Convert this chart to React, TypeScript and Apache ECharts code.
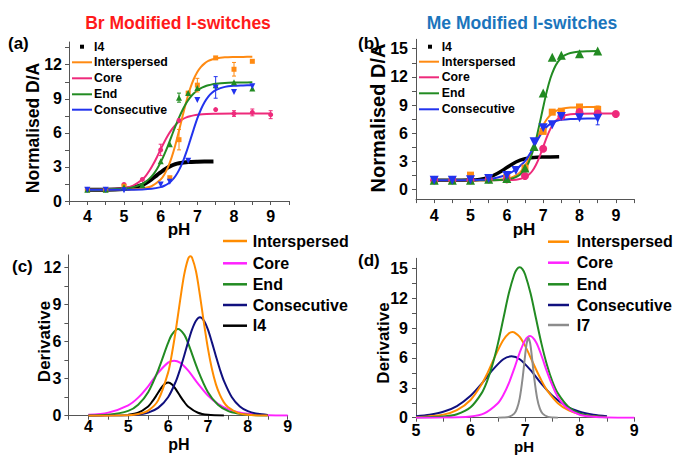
import React, { useEffect, useRef } from 'react';
import * as echarts from 'echarts';

type P = [number, number][];
type E = [number, number, number][];

// ---------- Panel (a): Br modified, Normalised D/A ----------
const aI4Fit: P = [[4,1],[4.5,1],[5,1.06],[5.25,1.18],[5.5,1.42],[5.6,1.58],[5.75,1.9],[5.9,2.28],[6,2.52],[6.1,2.76],[6.25,3.05],[6.4,3.25],[6.5,3.33],[6.75,3.43],[7,3.46],[7.44,3.48]];
const aInterFit: P = [[4,1],[4.5,1],[5,1.01],[5.25,1.03],[5.5,1.1],[5.75,1.3],[6,1.89],[6.1,2.34],[6.2,2.98],[6.3,3.84],[6.4,4.93],[6.5,6.19],[6.6,7.51],[6.7,8.77],[6.8,9.86],[6.9,10.72],[7,11.36],[7.1,11.81],[7.2,12.12],[7.3,12.33],[7.4,12.46],[7.5,12.55],[7.75,12.65],[8,12.68],[8.25,12.69],[8.5,12.7]];
const aCoreFit: P = [[4,1],[4.5,1.02],[5,1.14],[5.25,1.36],[5.5,1.89],[5.6,2.24],[5.7,2.7],[5.8,3.25],[5.9,3.88],[6,4.55],[6.1,5.2],[6.2,5.79],[6.3,6.29],[6.4,6.68],[6.5,6.98],[6.6,7.2],[6.7,7.36],[6.8,7.47],[6.9,7.54],[7,7.59],[7.25,7.66],[7.5,7.68],[8,7.7],[8.5,7.7],[9,7.7]];
const aEndFit: P = [[4,1],[4.5,1.02],[5,1.09],[5.25,1.22],[5.5,1.51],[5.6,1.72],[5.7,1.99],[5.8,2.35],[5.9,2.82],[6,3.41],[6.1,4.11],[6.2,4.88],[6.3,5.73],[6.4,6.57],[6.5,7.34],[6.6,8.04],[6.7,8.63],[6.8,9.1],[6.9,9.46],[7,9.73],[7.1,9.94],[7.2,10.08],[7.3,10.19],[7.4,10.27],[7.5,10.32],[7.75,10.4],[8,10.43],[8.25,10.44],[8.5,10.45]];
const aConsFit: P = [[4,1],[4.5,1],[5,1],[5.5,1.02],[5.75,1.07],[6,1.22],[6.1,1.34],[6.2,1.52],[6.3,1.79],[6.4,2.18],[6.5,2.72],[6.6,3.42],[6.7,4.3],[6.8,5.29],[6.9,6.31],[7,7.27],[7.1,8.08],[7.2,8.72],[7.3,9.2],[7.4,9.53],[7.5,9.76],[7.75,10.05],[8,10.15],[8.25,10.18],[8.5,10.2]];
const aInterPts: P = [[4,1],[4.5,1],[5,1.3],[6.25,2.05],[6.5,5.4],[6.75,9.5],[7,10.2],[7.5,12.6],[8,11.6],[8.5,12.3]];
const aCorePts: P = [[4,1],[4.5,1],[5,1.45],[5.5,1.9],[6,4.5],[6.5,7.1],[7.5,8.05],[8,7.7],[8.5,7.8],[9,7.6]];
const aEndPts: P = [[4,1],[4.5,1],[5,1.2],[5.5,1.4],[6,3.5],[6.25,5.0],[6.5,9.1],[6.75,9.5],[7,9.95],[7.5,10.2],[8,10.45],[8.5,9.9]];
const aConsPts: P = [[4,1],[4.5,1],[5,0.95],[6,1.45],[6.25,1.7],[6.75,3.55],[7,8.9],[7.5,10.0],[8,9.6],[8.5,10.1]];
const aInterErr: E = [[6.5,5.4,0.9],[7,10.2,0.6],[8,11.6,0.6]];
const aCoreErr: E = [[6,4.5,0.5],[8,7.7,0.25],[8.5,7.8,0.3],[9,7.6,0.35]];
const aEndErr: E = [[6.5,9.1,0.4]];
const aConsErr: E = [[7.5,10.0,0.95]];

// ---------- Panel (b): Me modified, Normalised D/A ----------
const bI4Fit: P = [[4,1],[4.5,1],[5,1.03],[5.25,1.1],[5.5,1.3],[5.75,1.75],[6,2.35],[6.25,2.95],[6.5,3.3],[6.75,3.43],[7,3.47],[7.44,3.5]];
const bInterFit: P = [[4,1],[5,1],[5.5,1.01],[5.75,1.05],[6,1.15],[6.1,1.25],[6.2,1.41],[6.3,1.65],[6.4,2.01],[6.5,2.54],[6.6,3.25],[6.7,4.13],[6.8,5.1],[6.9,6.04],[7,6.85],[7.1,7.49],[7.2,7.95],[7.3,8.26],[7.4,8.46],[7.5,8.59],[7.75,8.74],[8,8.78],[8.5,8.8]];
const bCoreFit: P = [[4,1],[5,1],[6,1.02],[6.25,1.07],[6.4,1.18],[6.5,1.33],[6.6,1.58],[6.7,1.99],[6.8,2.63],[6.9,3.5],[7,4.55],[7.1,5.6],[7.2,6.47],[7.3,7.11],[7.4,7.52],[7.5,7.77],[7.6,7.92],[7.75,8.03],[8,8.08],[8.5,8.1],[9,8.1]];
const bEndFit: P = [[4,1],[5,1],[5.5,1.01],[6,1.09],[6.2,1.26],[6.3,1.44],[6.4,1.72],[6.5,2.18],[6.6,2.88],[6.7,3.9],[6.8,5.29],[6.9,6.98],[7,8.77],[7.1,10.46],[7.2,11.85],[7.3,12.87],[7.4,13.57],[7.5,14.02],[7.6,14.31],[7.75,14.55],[8,14.7],[8.25,14.74],[8.5,14.75]];
const bConsFit: P = [[4,1],[4.5,1],[5,1.02],[5.25,1.06],[5.5,1.12],[5.75,1.3],[6,1.6],[6.25,2.15],[6.4,2.65],[6.5,3.05],[6.6,3.6],[6.7,4.25],[6.8,4.95],[6.9,5.65],[7,6.25],[7.1,6.7],[7.2,7.0],[7.3,7.2],[7.4,7.35],[7.5,7.43],[7.75,7.52],[8,7.56],[8.5,7.58]];
const bInterPts: P = [[4,1.05],[4.5,1],[5,1.55],[5.5,1.2],[6,1.3],[6.5,2.3],[7,6.2],[7.25,8.25],[7.5,8.35],[8,8.8],[8.5,8.55]];
const bCorePts: P = [[4,1],[4.5,1],[5,1],[5.5,1.1],[6,1.1],[6.5,1.45],[7,4.35],[7.5,7.8],[8,8.25],[8.5,8.1],[9,8.05]];
const bEndPts: P = [[4,1],[4.5,1],[5,1],[5.5,1.1],[6,1.2],[6.5,2.3],[6.75,4.6],[7,10.3],[7.25,14.1],[7.5,14.3],[8,14.45],[8.5,14.75]];
const bConsPts: P = [[4,1],[4.5,1],[5,1.05],[5.5,1.2],[6,1.5],[6.25,2.05],[6.75,5.1],[7,6.6],[7.25,6.9],[7.5,7.8],[8,7.65],[8.5,7.6]];
const bInterErr: E = [[8.5,8.55,0.35]];
const bConsErr: E = [[8.5,7.6,0.7]];

// ---------- Panel (c): Br modified, Derivative ----------
const cInter: P = [[4,0],[4.5,0],[5,0.04],[5.25,0.13],[5.5,0.41],[5.75,1.24],[6,3.48],[6.1,5.09],[6.2,7.05],[6.3,9.28],[6.4,11.34],[6.5,12.66],[6.56,12.9],[6.6,12.79],[6.7,11.68],[6.8,9.71],[6.9,7.47],[7,5.42],[7.1,3.77],[7.2,2.53],[7.3,1.68],[7.4,1.08],[7.5,0.7],[7.75,0.23],[8,0.07],[8.25,0.02],[8.5,0.01]];
const cCore: P = [[4,0.07],[4.5,0.25],[5,0.84],[5.25,1.46],[5.5,2.38],[5.75,3.46],[6,4.29],[6.15,4.45],[6.3,4.29],[6.5,3.66],[6.75,2.59],[7,1.62],[7.25,0.95],[7.5,0.53],[7.75,0.29],[8,0.15],[8.5,0.04],[9,0.01]];
const cEnd: P = [[4,0.01],[4.5,0.07],[5,0.39],[5.25,0.89],[5.5,1.9],[5.75,3.67],[6,5.88],[6.1,6.57],[6.25,7.0],[6.4,6.57],[6.5,5.88],[6.75,3.67],[7,1.9],[7.25,0.89],[7.5,0.39],[7.75,0.17],[8,0.07],[8.5,0.01]];
const cCons: P = [[4,0],[4.5,0.01],[5,0.04],[5.25,0.1],[5.5,0.25],[5.75,0.63],[6,1.49],[6.2,2.82],[6.3,3.74],[6.4,4.81],[6.5,5.93],[6.6,6.96],[6.7,7.68],[6.8,7.95],[6.9,7.68],[7,6.96],[7.1,5.93],[7.2,4.81],[7.3,3.74],[7.4,2.82],[7.6,1.49],[7.8,0.75],[8,0.37],[8.25,0.15],[8.5,0.06]];
const cI4: P = [[5,0.07],[5.25,0.24],[5.5,0.75],[5.6,1.13],[5.7,1.6],[5.8,2.11],[5.9,2.52],[6,2.68],[6.1,2.52],[6.2,2.11],[6.3,1.6],[6.4,1.13],[6.5,0.75],[6.75,0.24],[7,0.07],[7.4,0.01]];

// ---------- Panel (d): Me modified, Derivative ----------
const dInter: P = [[5,0.05],[5.5,0.31],[5.75,0.75],[6,1.78],[6.2,3.33],[6.3,4.36],[6.4,5.57],[6.5,6.76],[6.6,7.8],[6.7,8.46],[6.77,8.6],[6.8,8.57],[6.9,8.12],[7,7.21],[7.1,6.04],[7.2,4.84],[7.3,3.72],[7.4,2.77],[7.6,1.46],[7.8,0.73],[8,0.35],[8.25,0.14],[8.5,0.06]];
const dCore: P = [[5,0],[5.5,0.01],[6,0.12],[6.25,0.43],[6.5,1.45],[6.6,2.27],[6.7,3.44],[6.8,4.93],[6.9,6.53],[7,7.78],[7.09,8.2],[7.2,7.58],[7.3,6.22],[7.4,4.62],[7.5,3.21],[7.6,2.07],[7.75,1.05],[8,0.3],[8.25,0.09],[8.5,0.02],[9,0]];
const dEnd: P = [[5,0.01],[5.5,0.12],[5.75,0.35],[6,1.05],[6.2,2.44],[6.3,3.63],[6.4,5.29],[6.5,7.41],[6.6,9.93],[6.7,12.46],[6.8,14.37],[6.85,14.91],[6.9,15.1],[6.95,14.91],[7,14.37],[7.1,12.46],[7.2,9.93],[7.3,7.41],[7.4,5.29],[7.5,3.63],[7.6,2.44],[7.8,1.05],[8,0.44],[8.25,0.15],[8.5,0.05]];
const dCons: P = [[5,0.14],[5.25,0.29],[5.5,0.59],[5.75,1.17],[6,2.2],[6.2,3.4],[6.4,4.77],[6.6,5.87],[6.75,6.16],[6.9,5.87],[7.1,4.77],[7.3,3.4],[7.5,2.2],[7.75,1.17],[8,0.59],[8.25,0.29],[8.5,0.14]];
const dI7: P = [[6.5,0],[6.6,0.02],[6.7,0.08],[6.8,0.41],[6.85,0.91],[6.9,1.94],[6.95,3.81],[7,6.29],[7.03,7.52],[7.06,8.0],[7.09,7.52],[7.12,6.29],[7.17,3.81],[7.22,1.94],[7.27,0.91],[7.32,0.41],[7.42,0.08],[7.52,0.02],[7.6,0]];

// ---------- ticks & labels ----------
const xLabelsAB = [4, 5, 6, 7, 8, 9];
const xTicksAB = [3.5, 4, 4.5, 5, 5.5, 6, 6.5, 7, 7.5, 8, 8.5, 9, 9.5];
const xTicksC = [3.5, 4, 4.5, 5, 5.5, 6, 6.5, 7, 7.5, 8, 8.5, 9];
const xLabelsD = [5, 6, 7, 8, 9];
const xTicksD = [5, 5.5, 6, 6.5, 7, 7.5, 8, 8.5, 9];
const yLabels12 = [0, 3, 6, 9, 12];
const yTicks12 = [0, 1.5, 3, 4.5, 6, 7.5, 9, 10.5, 12, 13.5];
const yLabels15 = [0, 3, 6, 9, 12, 15];
const yTicks15 = [0, 1.5, 3, 4.5, 6, 7.5, 9, 10.5, 12, 13.5, 15];

const legendAB = ['Interspersed', 'Core', 'End', 'Consecutive'];
const legendC = ['Interspersed', 'Core', 'End', 'Consecutive', 'I4'];
const legendD = ['Interspersed', 'Core', 'End', 'Consecutive', 'I7'];

const C = {
  orange: '#FF8A12', pink: '#EE2A7B', green: '#228B22', blue: '#2233EE',
  dOrange: '#FF8C00', dMagenta: '#FF22FF', dGreen: '#228B22', navy: '#10107F', gray: '#8C8C8C',
};
const colorsAB = [C.orange, C.pink, C.green, C.blue];
const colorsC = [C.dOrange, C.dMagenta, C.dGreen, C.navy, '#000000'];
const colorsD = [C.dOrange, C.dMagenta, C.dGreen, C.navy, C.gray];

const FONT = '"Liberation Sans", Arial, Helvetica, sans-serif';

function fit(data: P, color: string, p: number, width = 2) {
  return { type: 'line', xAxisIndex: p, yAxisIndex: p, data, symbol: 'none', smooth: 0.3,
    lineStyle: { color, width }, itemStyle: { color }, z: 3, silent: true };
}
function pts(data: P, color: string, symbol: string, size: number, p: number, rotate = 0) {
  return { type: 'scatter', xAxisIndex: p, yAxisIndex: p, data, symbol, symbolSize: size,
    symbolRotate: rotate, itemStyle: { color, opacity: 1 }, z: 4, silent: true };
}
function errs(data: E, color: string, p: number) {
  return {
    type: 'custom', xAxisIndex: p, yAxisIndex: p, data, z: 4, silent: true,
    encode: { x: 0, y: 1 },
    renderItem: (_params: any, api: any) => {
      const x = api.value(0), y = api.value(1), e = api.value(2);
      const a = api.coord([x, y + e]);
      const b = api.coord([x, y - e]);
      const st = { stroke: color, lineWidth: 1 };
      return { type: 'group', children: [
        { type: 'line', shape: { x1: a[0], y1: a[1], x2: b[0], y2: b[1] }, style: st },
        { type: 'line', shape: { x1: a[0] - 2, y1: a[1], x2: a[0] + 2, y2: a[1] }, style: st },
        { type: 'line', shape: { x1: b[0] - 2, y1: b[1], x2: b[0] + 2, y2: b[1] }, style: st },
      ] };
    },
  };
}

function axis(p: number, min: number, max: number, labels: number[], ticks: number[], margin: number) {
  return {
    type: 'value', gridIndex: p, min, max,
    axisLine: { show: true, onZero: false, lineStyle: { color: '#555', width: 1 } },
    axisTick: { show: true, length: 4, customValues: ticks, lineStyle: { color: '#555' } },
    axisLabel: { customValues: labels, margin, color: '#000', fontSize: 16, fontWeight: 'bold', fontFamily: FONT },
    splitLine: { show: false },
  };
}

function txt(text: string, x: number, y: number, size: number, color = '#000', align = 'center', rot = 0) {
  return { type: 'text', x, y, rotation: rot, silent: true,
    style: { text, fill: color, font: `bold ${size}px ${FONT}`, textAlign: align, textVerticalAlign: 'middle' } };
}
function legendLines(names: string[], colors: string[], x1: number, x2: number, tx: number, ys: number[], size: number, lw: number) {
  const out: any[] = [];
  names.forEach((n, i) => {
    out.push({ type: 'line', silent: true, shape: { x1, y1: ys[i], x2, y2: ys[i] }, style: { stroke: colors[i], lineWidth: lw } });
    out.push(txt(n, tx, ys[i], size, '#000', 'left'));
  });
  return out;
}

export default function App() {
  const ref = useRef<HTMLDivElement>(null);
  useEffect(() => {
    if (!ref.current) return;
    const chart = echarts.init(ref.current, undefined, { renderer: 'svg' });
    const option: any = {
      animation: false,
      backgroundColor: '#ffffff',
      grid: [
        { left: 69, top: 42, width: 220, height: 159 },
        { left: 416, top: 39.3, width: 218, height: 159.8 },
        { left: 68.4, top: 254.9, width: 219.3, height: 160.8 },
        { left: 416, top: 258.3, width: 218.3, height: 159.4 },
      ],
      xAxis: [
        axis(0, 3.5, 9.5, xLabelsAB, xTicksAB, 7),
        axis(1, 3.5, 9.5, xLabelsAB, xTicksAB, 8),
        axis(2, 3.5, 9, xLabelsAB, xTicksC, 3),
        axis(3, 5, 9, xLabelsD, xTicksD, 5),
      ],
      yAxis: [
        axis(0, 0, 14, yLabels12, yTicks12, 7),
        axis(1, -1, 16, yLabels15, yTicks15, 8),
        axis(2, 0, 13, yLabels12, yTicks12, 7),
        axis(3, 0, 16, yLabels15, yTicks15, 8),
      ],
      series: [
        // (a)
        fit(aI4Fit, '#000', 0, 4),
        fit(aCoreFit, C.pink, 0), fit(aInterFit, C.orange, 0), fit(aEndFit, C.green, 0), fit(aConsFit, C.blue, 0),
        errs(aInterErr, C.orange, 0), errs(aCoreErr, C.pink, 0), errs(aEndErr, C.green, 0), errs(aConsErr, C.blue, 0),
        pts(aCorePts, C.pink, 'circle', 5, 0), pts(aInterPts, C.orange, 'rect', 5, 0),
        pts(aEndPts, C.green, 'triangle', 6, 0), pts(aConsPts, C.blue, 'triangle', 6, 0, 180),
        // (b)
        fit(bI4Fit, '#000', 1, 3.5),
        fit(bCoreFit, C.pink, 1), fit(bInterFit, C.orange, 1), fit(bEndFit, C.green, 1), fit(bConsFit, C.blue, 1),
        errs(bInterErr, C.orange, 1), errs(bConsErr, C.blue, 1),
        pts(bInterPts, C.orange, 'rect', 7, 1), pts(bCorePts, C.pink, 'circle', 8, 1),
        pts(bEndPts, C.green, 'triangle', 9, 1), pts(bConsPts, C.blue, 'triangle', 9, 1, 180),
        // (c)
        fit(cCore, C.dMagenta, 2), fit(cEnd, C.dGreen, 2), fit(cI4, '#000', 2), fit(cCons, C.navy, 2), fit(cInter, C.dOrange, 2),
        // (d)
        fit(dCons, C.navy, 3), fit(dInter, C.dOrange, 3), fit(dEnd, C.dGreen, 3), fit(dCore, C.dMagenta, 3), fit(dI7, C.gray, 3),
      ],
      graphic: [
        txt('Br Modified I-switches', 178, 23, 17.5, '#FF1A1A'),
        txt('Me Modified I-switches', 522, 23, 17.5, '#1B75BC'),
        txt('(a)', 8, 43.5, 17, '#000', 'left'),
        txt('(b)', 358, 43, 17, '#000', 'left'),
        txt('(c)', 12, 266, 17, '#000', 'left'),
        txt('(d)', 358, 260, 17, '#000', 'left'),
        txt('Normalised D/A', 33, 128, 17.5, '#000', 'center', Math.PI / 2),
        txt('Normalised D/A', 378, 118, 20, '#000', 'center', Math.PI / 2),
        txt('Derivative', 44, 341.5, 17, '#000', 'center', Math.PI / 2),
        txt('Derivative', 383, 343, 17, '#000', 'center', Math.PI / 2),
        txt('pH', 179, 229, 17), txt('pH', 524, 229, 17),
        txt('pH', 179, 444, 16), txt('pH', 524, 446, 15),
        // legend (a)
        { type: 'rect', silent: true, shape: { x: 80, y: 44.7, width: 4, height: 4 }, style: { fill: '#000' } },
        txt('I4', 94, 46.7, 12.3, '#000', 'left'),
        ...legendLines(legendAB, colorsAB, 72, 92, 94, [62.3, 78.3, 94.3, 109.7], 12.3, 2),
        // legend (b)
        { type: 'rect', silent: true, shape: { x: 428, y: 44.7, width: 4, height: 4 }, style: { fill: '#000' } },
        txt('I4', 441.7, 46.7, 12.3, '#000', 'left'),
        ...legendLines(legendAB, colorsAB, 419, 439, 441.7, [61.7, 77.3, 93.3, 109.3], 12.3, 2),
        // legend (c)
        ...legendLines(legendC, colorsC, 223, 247, 252.7, [241, 263.3, 284.3, 305, 325.7], 16, 2.5),
        // legend (d)
        ...legendLines(legendD, colorsD, 548, 569, 576.7, [241.7, 262.7, 284.3, 305, 325], 16, 2.5),
      ],
    };
    chart.setOption(option);
    return () => chart.dispose();
  }, []);
  return <div ref={ref} style={{ position: 'fixed', left: 0, top: 0, width: 681, height: 455, background: '#fff' }} />;
}
